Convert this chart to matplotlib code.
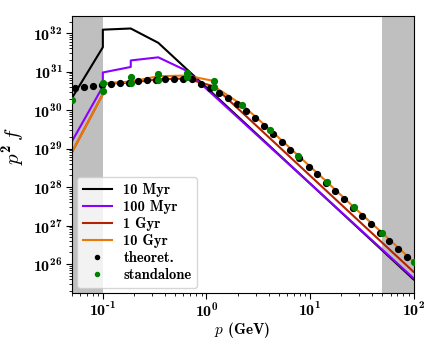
#!/usr/bin/env python3
"""p^2 f spectra at several ages, with theoretical and standalone points."""

import matplotlib
matplotlib.use("Agg")
import matplotlib.pyplot as plt
from matplotlib.ticker import LogLocator, NullFormatter, FuncFormatter
import numpy as np

plt.rcParams.update({
    "font.family": "serif",
    "font.serif": ["cmb10", "DejaVu Serif"],
    "mathtext.fontset": "custom",
    "mathtext.rm": "cmb10",
    "mathtext.bf": "cmb10",
    "mathtext.it": "cmmi10",
    "axes.unicode_minus": False,
})

# ---------------------------------------------------------------------------
# Data (p in GeV, p^2 f)
# ---------------------------------------------------------------------------
p_10myr = [0.05, 0.1, 0.1, 0.186, 0.343, 100]
f_10myr = [2.0e30, 4.3e31, 1.23e32, 1.32e32, 5.6e31, 4.0e25]

p_100myr = [0.05, 0.1, 0.1, 0.186, 0.186, 0.343, 0.645, 100]
f_100myr = [1.5e29, 4.1e30, 9.5e30, 1.32e31, 1.95e31, 2.35e31, 1.05e31, 4.3e25]

p_1gyr = [0.05, 0.1, 0.1, 0.186, 0.343, 0.645, 1.19, 100]
f_1gyr = [7.8e28, 2.6e30, 4.8e30, 5.2e30, 6.3e30, 6.6e30, 4.1e30, 6.3e25]

p_10gyr = [0.05, 0.1, 0.1, 0.186, 0.343, 0.645, 1.19, 1.19,
           2.22, 4.14, 7.71, 14.5, 26.6, 49.6, 100]
f_10gyr = [7.8e28, 2.6e30, 5.0e30, 5.5e30, 7.6e30, 7.9e30, 5.7e30, 4.1e30,
           1.36e30, 3.05e29, 6.56e28, 1.38e28, 2.99e27, 6.52e26, 1.15e26]

theo_p = [0.0538, 0.0658, 0.0804, 0.0982, 0.120, 0.146, 0.179, 0.218,
          0.267, 0.326, 0.398, 0.486, 0.594, 0.726, 0.887, 1.08, 1.32,
          1.61, 1.97, 2.41, 2.94, 3.60, 4.40, 5.37, 6.41, 7.83, 9.73,
          11.8, 14.4, 17.6, 21.5, 26.2, 32.0, 39.1, 47.8, 58.3, 71.3, 87.1]
theo_f = [3.72e30, 3.94e30, 4.26e30, 4.52e30, 4.80e30, 5.01e30, 5.19e30,
          5.85e30, 6.10e30, 6.10e30, 6.37e30, 6.47e30, 6.47e30, 6.37e30,
          4.72e30, 3.72e30, 2.75e30, 2.04e30, 1.45e30, 9.53e29, 6.15e29,
          3.95e29, 2.40e29, 1.52e29, 9.23e28, 5.61e28, 3.40e28, 2.15e28,
          1.30e28, 7.93e27, 4.82e27, 2.91e27, 1.80e27, 1.10e27, 6.52e26,
          4.04e26, 2.50e26, 1.49e26]

stand_p = [0.05, 0.1, 0.1, 0.186, 0.186, 0.343, 0.343, 0.645, 0.645,
           1.19, 1.19, 2.22, 4.14, 7.71, 14.5, 26.6, 49.6, 100]
stand_f = [1.8e30, 5.0e30, 3.2e30, 7.43e30, 5.19e30, 8.72e30, 6.1e30,
           9.1e30, 7.17e30, 5.74e30, 4.08e30, 1.36e30, 3.05e29, 6.56e28,
           1.38e28, 2.99e27, 6.52e26, 1.15e26]

x_ticks = [0.1, 1, 10, 100]
y_ticks = [1e26, 1e27, 1e28, 1e29, 1e30, 1e31, 1e32]


def pow10_label(v, pos):
    e = int(round(np.log10(v)))
    if e < 0:
        return r"$10^{\text{-}%d}$" % (-e)
    return r"$10^{%d}$" % e


# ---------------------------------------------------------------------------
# Figure
# ---------------------------------------------------------------------------
fig = plt.figure(figsize=(4.36, 3.46), dpi=100)
ax = fig.add_axes([0.1644, 0.154, 0.784, 0.800])

ax.axvspan(0.05, 0.1, color="#bfbfbf", lw=0, zorder=0)
ax.axvspan(50, 100, color="#bfbfbf", lw=0, zorder=0)

lw = 1.5
ax.plot(p_10myr, f_10myr, color="black", lw=lw, label="10 Myr")
ax.plot(p_100myr, f_100myr, color="#8a00ff", lw=lw, label="100 Myr")
ax.plot(p_1gyr, f_1gyr, color="#b52200", lw=lw, label="1 Gyr")
ax.plot(p_10gyr, f_10gyr, color="#e8780a", lw=lw, label="10 Gyr")
ax.plot(theo_p, theo_f, "o", color="black", ms=4.2, ls="none",
        label="theoret.", zorder=4)
ax.plot(stand_p, stand_f, "o", color="green", ms=4.2, ls="none",
        label="standalone", zorder=5)

ax.set_xscale("log")
ax.set_yscale("log")
ax.set_xlim(0.05, 100)
ax.set_ylim(1.8e25, 2.8e32)

ax.set_yticks(y_ticks)
ax.set_xticks(x_ticks)
ax.yaxis.set_major_formatter(FuncFormatter(pow10_label))
ax.xaxis.set_major_formatter(FuncFormatter(pow10_label))
ax.yaxis.set_minor_locator(LogLocator(base=10, subs=range(2, 10), numticks=100))
ax.yaxis.set_minor_formatter(NullFormatter())
ax.xaxis.set_minor_locator(LogLocator(base=10, subs=range(2, 10), numticks=100))
ax.xaxis.set_minor_formatter(NullFormatter())
ax.tick_params(which="major", labelsize=11.5, length=4, pad=2.5)
ax.tick_params(which="minor", length=2)

ax.set_xlabel(r"$p$ (GeV)", fontsize=11, labelpad=0)
ax.set_ylabel(r"$p^2\,f$", fontsize=15)
ax.yaxis.set_label_coords(-0.135, 0.53)

ax.legend(loc="lower left", prop={"size": 10.5}, numpoints=1,
          handlelength=2.0, labelspacing=0.2, markerscale=0.7,
          borderaxespad=0.35)

fig.savefig("out.png", dpi=100)
